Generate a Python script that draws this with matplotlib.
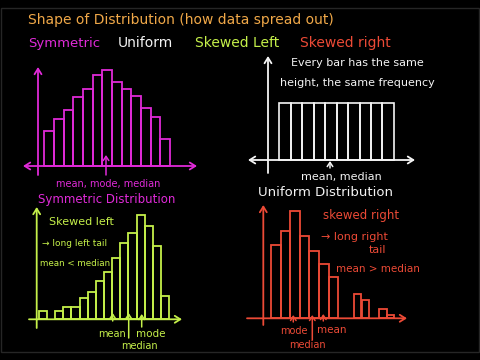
import numpy as np
import matplotlib.pyplot as plt
from matplotlib.patches import Rectangle

# bar heights (frequency units)
symmetric_freq = [35, 47, 56, 69, 77, 91, 96, 84, 77, 70, 58, 49, 27]
uniform_freq = [57, 57, 57, 57, 57, 57, 57, 57, 57, 57]
left_freq = [8, 0, 8, 12, 12, 21, 27, 38, 47, 61, 76, 86, 104, 93, 73, 23]
right_x = [0, 1, 2, 3, 4, 5, 6, 8.5, 9.35, 11.2, 11.95]
right_freq = [73, 87, 107, 82, 67, 54, 41, 24, 18, 9, 3]

ORANGE = '#f0a848'
MAGENTA = '#e02ad8'
WHITE = '#f4f4f4'
GREEN = '#c5f04a'
RED = '#ec4a36'

W, H = 480, 360
fig = plt.figure(figsize=(4.8, 3.6), dpi=100, facecolor='black')
fig.add_artist(Rectangle((1 / W, 1 - 352 / H), 478 / W, 344 / H, transform=fig.transFigure,
                         fill=False, edgecolor='#262626', lw=1))


def txt(x, y, s, color, size, ha='center'):
    fig.text(x / W, 1 - y / H, s, color=color, fontsize=size, ha=ha, va='center')


def panel(left, right, top, bottom, base, c0, bw, yaxis, color, xstyle):
    ax = fig.add_axes([left / W, 1 - bottom / H, (right - left) / W, (bottom - top) / H])
    ax.set_xlim((left - c0) / bw, (right - c0) / bw)
    ax.set_ylim(base - bottom, base - top)
    ax.axis('off')
    ax.set_facecolor('none')
    x0, x1 = ax.get_xlim()
    y0, y1 = ax.get_ylim()
    ax.annotate('', xy=(x1, 0), xytext=(x0, 0), annotation_clip=False,
                arrowprops=dict(arrowstyle=xstyle + ',head_length=0.4,head_width=0.25',
                                color=color, lw=1.3, shrinkA=0, shrinkB=0))
    xv = (yaxis - c0) / bw
    ax.annotate('', xy=(xv, y1), xytext=(xv, y0), annotation_clip=False,
                arrowprops=dict(arrowstyle='->,head_length=0.4,head_width=0.25',
                                color=color, lw=1.3, shrinkA=0, shrinkB=0))

    def pointer(px, ytail, yhead):
        ax.annotate('', xy=((px - c0) / bw, base - yhead), xytext=((px - c0) / bw, base - ytail),
                    annotation_clip=False,
                    arrowprops=dict(arrowstyle='->,head_length=0.3,head_width=0.2',
                                    color=color, lw=1.1, shrinkA=0, shrinkB=0))
    return ax, pointer


# title rows
txt(28, 20, 'Shape of Distribution (how data spread out)', ORANGE, 10, ha='left')
txt(28, 43, 'Symmetric', MAGENTA, 9.5, ha='left')
txt(118, 43, 'Uniform', WHITE, 10, ha='left')
txt(195, 43, 'Skewed Left', GREEN, 10, ha='left')
txt(300, 43, 'Skewed right', RED, 10, ha='left')

# symmetric
ax, pointer = panel(23, 197, 67, 175, 166, 49.2, 9.67, 38, MAGENTA, '<->')
ax.bar(np.arange(len(symmetric_freq)), symmetric_freq, width=1, fill=False,
       edgecolor=MAGENTA, lw=1.3)
pointer(106, 175, 155)
txt(108, 184, 'mean, mode, median', MAGENTA, 7)
txt(107, 200, 'Symmetric Distribution', MAGENTA, 8.5)

# uniform
ax, pointer = panel(248, 415, 56, 173, 160, 285.0, 11.47, 268, WHITE, '<->')
ax.bar(np.arange(len(uniform_freq)), uniform_freq, width=1, fill=False,
       edgecolor=WHITE, lw=1.2)
pointer(330, 168, 161)
txt(357, 63, 'Every bar has the same', WHITE, 8)
txt(357, 83, 'height, the same frequency', WHITE, 8)
txt(341, 177, 'mean, median', WHITE, 8)
txt(326, 193, 'Uniform Distribution', WHITE, 9.5)

# skewed left
ax, pointer = panel(29, 182, 207, 328, 319.3, 42.8, 8.16, 36.7, GREEN, '->')
lx = np.arange(len(left_freq))
lh = np.array(left_freq)
ax.bar(lx[lh > 0], lh[lh > 0], width=1, fill=False, edgecolor=GREEN, lw=1.3)
pointer(112.7, 321, 313)
pointer(128.7, 338, 313)
pointer(141.7, 327, 314)
txt(81, 222, 'Skewed left', GREEN, 8)
txt(75, 243, '\u2192 long left tail', GREEN, 6.5)
txt(75, 264, 'mean < median', GREEN, 6.3)
txt(112, 334, 'mean', GREEN, 7)
txt(139, 346, 'median', GREEN, 7)
txt(151, 334, 'mode', GREEN, 7.5)

# skewed right
ax, pointer = panel(247, 407, 205, 325, 318.3, 275.8, 9.6, 263.3, RED, '->')
rx = np.array(right_x)
ax.bar(rx, right_freq, width=np.where(rx > 7, 0.8, 1.0), fill=False, edgecolor=RED, lw=1.3)
pointer(293.3, 322, 315)
pointer(312.3, 340, 315)
pointer(323.3, 321, 314)
txt(361, 215, 'skewed right', RED, 8.5)
txt(354, 237, '\u2192 long right', RED, 8)
txt(377, 250, 'tail', RED, 8)
txt(378, 269, 'mean > median', RED, 7.5)
txt(294, 331, 'mode', RED, 7)
txt(307, 345, 'median', RED, 7)
txt(332, 330, 'mean', RED, 7.5)

fig.savefig('out.png', dpi=100, facecolor='black')
